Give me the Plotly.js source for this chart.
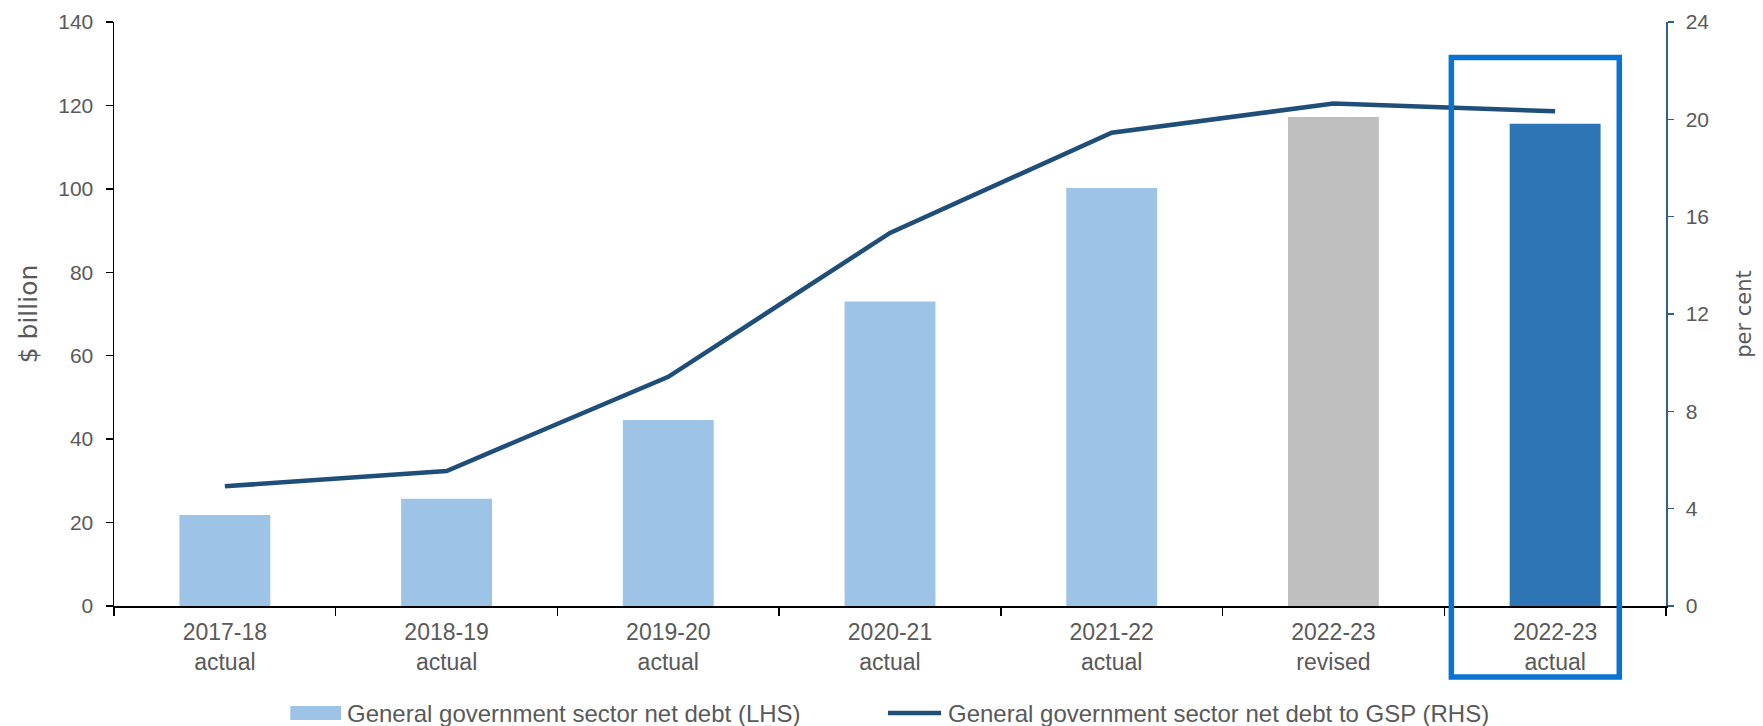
<!DOCTYPE html>
<html>
<head>
<meta charset="utf-8">
<script src="https://cdn.plot.ly/plotly-3.0.1.min.js"></script>
<style>html,body{margin:0;padding:0;background:#fff;}#chart{width:1763px;height:726px;}</style>
</head>
<body>
<div id="chart"></div>
<script>
// ---- data ----
const categories = ["2017-18<br>actual", "2018-19<br>actual", "2019-20<br>actual", "2020-21<br>actual", "2021-22<br>actual", "2022-23<br>revised", "2022-23<br>actual"];
const netDebt = [21.8, 25.7, 44.6, 73.0, 100.2, 117.2, 115.6];          // $ billion (LHS)
const netDebtToGSP = [4.92, 5.55, 9.42, 15.33, 19.45, 20.65, 20.33];    // per cent (RHS)
const leftTicks = [0, 20, 40, 60, 80, 100, 120, 140];
const rightTicks = [0, 4, 8, 12, 16, 20, 24];
const seriesNames = ["General government sector net debt (LHS)", "General government sector net debt to GSP (RHS)"];

// ---- styles ----
const barColors = ["#9DC3E6", "#9DC3E6", "#9DC3E6", "#9DC3E6", "#9DC3E6", "#BFBFBF", "#2E75B6"];
const lineColor = "#1F4E79";
const textColor = "#595959";
const fontFamily = "Liberation Sans, Arial, sans-serif";
const titleFamily = "DejaVu Sans, sans-serif";

const traces = [
  {
    type: "bar",
    x: categories,
    y: netDebt,
    name: seriesNames[0],
    marker: { color: barColors, line: { width: 0 } },
    width: 0.41,
    yaxis: "y",
    showlegend: false,
    hoverinfo: "y"
  },
  {
    type: "scatter",
    mode: "lines",
    x: categories,
    y: netDebtToGSP,
    name: seriesNames[1],
    line: { color: lineColor, width: 4.5 },
    yaxis: "y2",
    showlegend: false
  }
];

const layout = {
  width: 1763,
  height: 726,
  margin: { l: 114, r: 97, t: 22, b: 120 },
  paper_bgcolor: "#ffffff",
  plot_bgcolor: "#ffffff",
  font: { family: fontFamily, size: 20, color: textColor },
  showlegend: false,
  xaxis: {
    type: "category",
    showgrid: false,
    zeroline: false,
    showline: true,
    linecolor: "#000000",
    linewidth: 1.5,
    ticks: "outside",
    tickson: "boundaries",
    ticklen: 8,
    tickcolor: "#000000",
    tickwidth: 1.5,
    tickfont: { size: 23, color: textColor },
    ticklabelstandoff: 5,
    fixedrange: true
  },
  yaxis: {
    range: [0, 140],
    tickvals: leftTicks,
    showgrid: false,
    zeroline: false,
    showline: true,
    linecolor: "#000000",
    linewidth: 1.5,
    ticks: "outside",
    ticklen: 7,
    tickcolor: "#000000",
    tickwidth: 1.5,
    tickfont: { size: 21, color: textColor },
    ticklabelstandoff: 8,
    title: { text: "$ billion", font: { family: titleFamily, size: 25, color: textColor }, standoff: 13 }
  },
  yaxis2: {
    range: [0, 24],
    tickvals: rightTicks,
    overlaying: "y",
    side: "right",
    showgrid: false,
    zeroline: false,
    showline: true,
    linecolor: "#2F5F8F",
    linewidth: 1.5,
    ticks: "outside",
    ticklen: 6,
    tickcolor: "#2F5F8F",
    tickwidth: 1.5,
    tickfont: { size: 21, color: textColor },
    ticklabelstandoff: 8,
    title: { text: "per cent", font: { family: titleFamily, size: 21, color: textColor }, standoff: 28 }
  },
  shapes: [
    // highlight box around latest actual
    { type: "rect", xref: "paper", yref: "paper", x0: 0.8617, x1: 0.9699, y0: -0.1217, y1: 0.939,
      line: { color: "#0A72D0", width: 5.5 }, fillcolor: "rgba(0,0,0,0)", layer: "above" },
    // legend swatches
    { type: "rect", xref: "paper", yref: "paper", x0: 0.1136, x1: 0.1463, y0: -0.1954, y1: -0.1714,
      line: { width: 0 }, fillcolor: barColors[0] },
    { type: "line", xref: "paper", yref: "paper", x0: 0.4987, x1: 0.5329, y0: -0.1834, y1: -0.1834,
      line: { color: lineColor, width: 4.5 } }
  ],
  annotations: [
    { xref: "paper", yref: "paper", x: 0.1491, y: -0.1834, xanchor: "left", yanchor: "middle",
      text: seriesNames[0], showarrow: false, font: { size: 24, color: textColor } },
    { xref: "paper", yref: "paper", x: 0.5359, y: -0.1834, xanchor: "left", yanchor: "middle",
      text: seriesNames[1], showarrow: false, font: { size: 24, color: textColor } }
  ]
};

Plotly.newPlot("chart", traces, layout, { displayModeBar: false, staticPlot: true });
</script>
</body>
</html>
